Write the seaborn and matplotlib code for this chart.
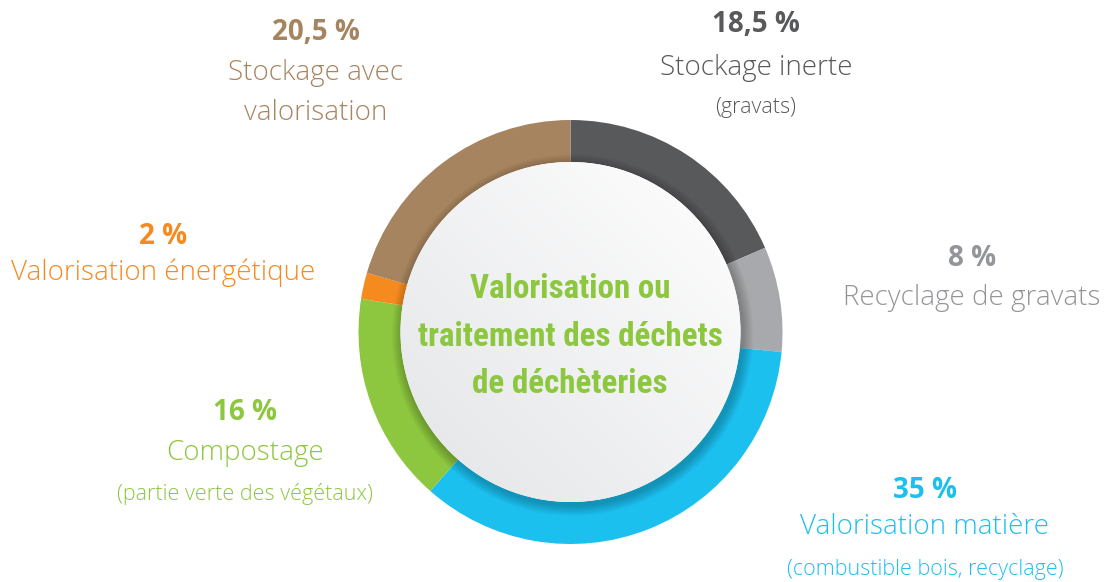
import numpy as np
import matplotlib.pyplot as plt
import seaborn as sns
from matplotlib import font_manager
from matplotlib.patches import Circle

# Data
categories = ['Stockage inerte', 'Recyclage de gravats', 'Valorisation matière',
              'Compostage', 'Valorisation énergétique', 'Stockage avec valorisation']
shares = [18.5, 8, 35, 16, 2, 20.5]
pct_labels = ['18,5 %', '8 %', '35 %', '16 %', '2 %', '20,5 %']
name_lines = [['Stockage inerte'], ['Recyclage de gravats'], ['Valorisation matière'],
              ['Compostage'], ['Valorisation énergétique'], ['Stockage avec', 'valorisation']]
notes = ['(gravats)', '', '(combustible bois, recyclage)', '(partie verte des végétaux)', '', '']
center_title = ['Valorisation ou', 'traitement des déchets', 'de déchèteries']

ring_colors = ['#58595b', '#a7a9ac', '#1cc0ef', '#8dc63f', '#f58a1f', '#a6845f']
text_colors = ['#58595b', '#939598', '#1cc0ef', '#8dc63f', '#f58a1f', '#a6845f']

sns.set_theme(style='white')
plt.rcParams['font.family'] = ['Open Sans', 'DejaVu Sans']

# pick a condensed bold face for the centre title if one is installed
fonts = font_manager.fontManager.ttflist
title_font = dict(family=['Roboto', 'DejaVu Sans'], fontsize=20)
names = {f.name for f in fonts}
for nm in ['Roboto Condensed', 'Liberation Sans Narrow', 'Open Sans Condensed',
           'Noto Sans Condensed', 'Arial Narrow']:
    if nm in names:
        title_font = dict(family=[nm, 'DejaVu Sans'], fontsize=23.8)
        break
else:
    if any(f.name == 'DejaVu Sans' and f.stretch == 'condensed' for f in fonts):
        title_font = dict(family=['DejaVu Sans'], fontstretch='condensed', fontsize=22)

W, H = 1110, 582
fig = plt.figure(figsize=(W / 100, H / 100), dpi=100)
fig.patch.set_facecolor('white')

# pie axes: centre (570, 332) px, outer radius 212 px
cx, cy, R = 570.5, 332, 212
ax = fig.add_axes([(cx - R) / W, (H - cy - R) / H, 2 * R / W, 2 * R / H])
ax.pie(shares, colors=ring_colors, startangle=90, counterclock=False,
       radius=1.0, wedgeprops=dict(width=0.3, linewidth=0))
ax.set_xlim(-1, 1)
ax.set_ylim(-1, 1)
ax.set_aspect('equal')
ax.axis('off')

r_in = 170 / 212
# soft shadow of the inner disc on the ring
for k in range(10):
    ax.add_patch(Circle((0.01, -0.015), r_in + 0.005 * (10 - k), color='black',
                        alpha=0.022, linewidth=0, zorder=3))

# inner disc with light gradient
n = 300
xx, yy = np.meshgrid(np.linspace(-1, 1, n), np.linspace(-1, 1, n))
g = (xx + yy) / 2  # lower-left -> upper-right
shade = np.clip(0.5 + 0.6 * g, 0, 1)
base = np.array([0.89, 0.895, 0.905])
img = base[None, None, :] + (1 - base)[None, None, :] * shade[..., None]
disc = Circle((0, 0), r_in, facecolor='white', linewidth=0, zorder=4)
ax.add_patch(disc)
im = ax.imshow(img, extent=(-1, 1, -1, 1), origin='lower', zorder=5)
im.set_clip_path(disc)


def px(x, y):
    return x / W, 1 - y / H


# label positions (pixels): x, y of percentage, first name line, line step, note y
layout = [
    (756, 25, 68, 40, 108),
    (972, 258, 298, 40, None),
    (925, 490, 527, 40, 570),
    (245, 412, 453, 40, 494),
    (163, 236, 273, 40, None),
    (316, 33, 73, 40, None),
]

for i in range(len(categories)):
    x, yp, yn, step, ynote = layout[i]
    c = text_colors[i]
    fig.text(*px(x, yp), pct_labels[i], color=c, fontsize=20, fontweight='bold',
             ha='center', va='center')
    for j, line in enumerate(name_lines[i]):
        fig.text(*px(x, yn + j * step), line, color=c, fontsize=20, fontweight='light',
                 ha='center', va='center')
    if notes[i]:
        fig.text(*px(x, ynote), notes[i], color=c, fontsize=15.5, fontweight='light',
                 ha='center', va='center')

for j, line in enumerate(center_title):
    fig.text(*px(570, 289 + j * 47.5), line, color='#8dc63f', fontweight='bold',
             ha='center', va='center', zorder=10, **title_font)

fig.savefig('out.png', dpi=100)
